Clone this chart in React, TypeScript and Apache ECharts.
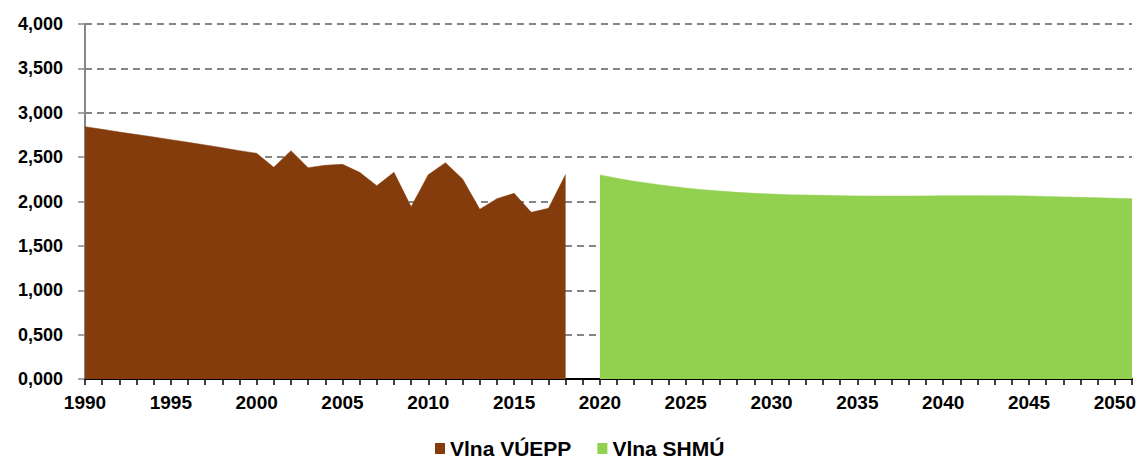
import React, { useEffect, useRef } from "react";
import * as echarts from "echarts";

const years: string[] = [];
for (let y = 1990; y <= 2051; y++) years.push(String(y));

// Vlna VÚEPP, 1990–2018
const vueppValues = [
  2843, 2813, 2783, 2755, 2727, 2697, 2667, 2637, 2606, 2573,
  2543, 2385, 2573, 2381, 2408, 2419, 2329, 2178, 2329, 1941,
  2302, 2437, 2254, 1912, 2032, 2092, 1878, 1923, 2304,
];

// Vlna SHMÚ, 2020–2051
const shmuValues = [
  2300, 2261, 2227, 2201, 2175, 2152, 2133, 2118, 2103, 2092,
  2084, 2077, 2073, 2070, 2066, 2063, 2062, 2062, 2062, 2063,
  2065, 2066, 2066, 2065, 2064, 2062, 2057, 2052, 2047, 2042,
  2037, 2032,
];

const seriesNames = ["Vlna VÚEPP", "Vlna SHMÚ"];
const colors = ["#843C0C", "#92D050"];

const vueppData = years.map((y) => {
  const i = Number(y) - 1990;
  return i < vueppValues.length ? vueppValues[i] : null;
});
const shmuData = years.map((y) => {
  const i = Number(y) - 2020;
  return i >= 0 && i < shmuValues.length ? shmuValues[i] : null;
});

const FONT = "'Liberation Sans', Arial, sans-serif";

export default function App() {
  const ref = useRef<HTMLDivElement>(null);
  useEffect(() => {
    if (!ref.current) return;
    const chart = echarts.init(ref.current, undefined, { renderer: "svg" });
    chart.setOption({
      animation: false,
      textStyle: { fontFamily: FONT },
      grid: { left: 85, right: 8, top: 24, bottom: 80, containLabel: false },
      legend: {
        data: seriesNames.map((n, i) => ({ name: n, itemStyle: { color: colors[i] } })),
        left: 435,
        top: 438,
        padding: 0,
        icon: "rect",
        itemWidth: 10,
        itemHeight: 11,
        itemGap: 26,
        textStyle: {
          fontFamily: FONT,
          fontWeight: "bold",
          fontSize: 21,
          lineHeight: 20,
          color: "#000",
        },
      },
      xAxis: {
        type: "category",
        data: years,
        boundaryGap: false,
        axisLine: { show: true, lineStyle: { color: "#000", width: 2 } },
        axisTick: { show: true, interval: 0, length: 6, lineStyle: { color: "#000", width: 1.5 } },
        axisLabel: {
          interval: 4,
          margin: 14,
          fontFamily: FONT,
          fontWeight: "bold",
          fontSize: 19,
          color: "#000",
        },
        splitLine: { show: false },
      },
      yAxis: {
        type: "value",
        min: 0,
        max: 4000,
        interval: 500,
        axisLine: { show: true, lineStyle: { color: "#868686", width: 2 } },
        axisTick: { show: true, length: 7, lineStyle: { color: "#868686", width: 1.5 } },
        axisLabel: {
          margin: 22,
          fontFamily: FONT,
          fontWeight: "bold",
          fontSize: 18,
          color: "#000",
          formatter: (v: number) => (v / 1000).toFixed(3).replace(".", ","),
        },
        splitLine: {
          show: true,
          lineStyle: { color: "#868686", width: 2, type: [7, 5] },
        },
      },
      series: [
        {
          name: seriesNames[0],
          type: "line",
          data: vueppData,
          symbol: "none",
          connectNulls: false,
          itemStyle: { color: colors[0] },
          lineStyle: { color: colors[0], width: 0.5 },
          areaStyle: { color: colors[0], opacity: 1 },
          z: 3,
        },
        {
          name: seriesNames[1],
          type: "line",
          data: shmuData,
          symbol: "none",
          connectNulls: false,
          itemStyle: { color: colors[1] },
          lineStyle: { color: colors[1], width: 0.5 },
          areaStyle: { color: colors[1], opacity: 1 },
          z: 3,
        },
      ],
    });
    return () => chart.dispose();
  }, []);
  return (
    <div
      ref={ref}
      style={{ position: "absolute", left: 0, top: 0, width: 1140, height: 459 }}
    />
  );
}
